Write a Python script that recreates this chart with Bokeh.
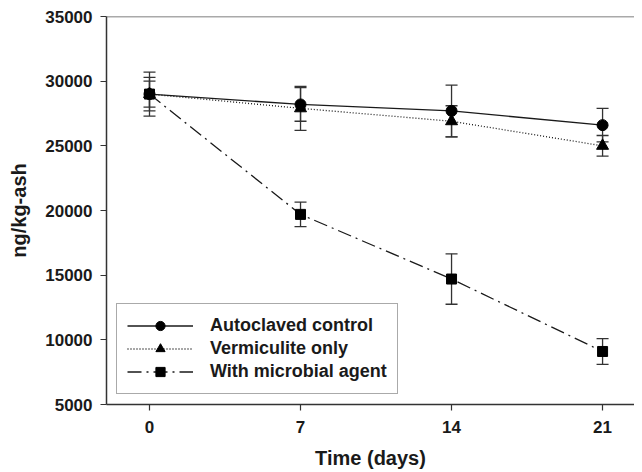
from bokeh.plotting import figure
from bokeh.models import (Range1d, FixedTicker, Whisker, ColumnDataSource, Span,
                          TeeHead, Legend, LegendItem)
from bokeh.embed import file_html
from bokeh.resources import INLINE

days = [0, 7, 14, 21]
autoclaved = [29000, 28200, 27700, 26600]
autoclaved_err = [1700, 1300, 2000, 1300]
vermiculite = [29000, 27900, 26900, 25000]
vermiculite_err = [1300, 1700, 1200, 800]
microbial = [29000, 19700, 14700, 9100]
microbial_err = [1000, 950, 1950, 1000]
labels = ["Autoclaved control", "Vermiculite only", "With microbial agent"]
y_ticks = [5000, 10000, 15000, 20000, 25000, 30000, 35000]

FONT = "Liberation Sans"
INK = "#1a1a1a"

p = figure(frame_width=528, frame_height=388, output_backend="svg", toolbar_location=None,
           x_range=Range1d(-1.993, 22.48), y_range=Range1d(5000, 35000),
           min_border_left=106, min_border_right=0, min_border_top=16,
           min_border_bottom=40)
p.outline_line_color = None
p.grid.grid_line_color = None
p.background_fill_color = "white"

for ax in (p.xaxis[0], p.yaxis[0]):
    ax.axis_line_color = "#333333"
    ax.axis_line_width = 1.5
    ax.major_tick_line_color = "#333333"
    ax.major_tick_line_width = 1.2
    ax.major_tick_out = 6
    ax.major_tick_in = 0
    ax.minor_tick_line_color = None
    ax.major_label_text_font = FONT
    ax.major_label_text_font_style = "bold"
    ax.major_label_text_font_size = "17px"
    ax.major_label_text_color = INK
    ax.axis_label_text_font = FONT
    ax.axis_label_text_font_style = "bold"
    ax.axis_label_text_font_size = "20px"
    ax.axis_label_text_color = INK

p.xaxis.ticker = FixedTicker(ticks=days)
p.yaxis.ticker = FixedTicker(ticks=y_ticks)
p.xaxis.axis_label = "Time (days)"
p.yaxis.axis_label = "ng/kg-ash"
p.xaxis.major_label_standoff = 10
p.xaxis.axis_label_standoff = 11
p.yaxis.major_label_standoff = 8
p.yaxis.axis_label_standoff = 12

p.add_layout(Span(location=35000, dimension="width", line_color="#555555", line_width=1.5))

series = [
    (autoclaved, autoclaved_err, "solid", "circle", 11),
    (vermiculite, vermiculite_err, "1 2", "triangle", 12),
    (microbial, microbial_err, "14 5 2 5", "square", 10),
]

items = []
for (vals, errs, dash, marker, size), lab in zip(series, labels):
    src = ColumnDataSource(dict(x=days, y=vals,
                                lo=[v - e for v, e in zip(vals, errs)],
                                hi=[v + e for v, e in zip(vals, errs)]))
    w = Whisker(base="x", lower="lo", upper="hi", source=src,
                line_color="#333333", line_width=1.3,
                upper_head=TeeHead(size=12, line_color="#333333", line_width=1.3),
                lower_head=TeeHead(size=12, line_color="#333333", line_width=1.3))
    p.add_layout(w)
    r1 = p.line("x", "y", source=src, line_color=INK, line_width=1.3, line_dash=dash)
    r2 = p.scatter("x", "y", source=src, marker=marker, size=size,
                   fill_color="black", line_color="black")
    items.append(LegendItem(label=lab, renderers=[r1, r2]))

legend = Legend(items=items, location=(10, 10))
legend.label_text_font = FONT
legend.label_text_font_style = "bold"
legend.label_text_font_size = "18px"
legend.label_text_color = INK
legend.glyph_width = 66
legend.glyph_height = 23
legend.label_height = 23
legend.spacing = 0
legend.padding = 10
legend.margin = 0
legend.label_standoff = 17
legend.border_line_color = "#555555"
legend.border_line_width = 1.3
legend.background_fill_alpha = 1
p.add_layout(legend, "center")

open("out.html", "w").write(file_html(p, INLINE))
